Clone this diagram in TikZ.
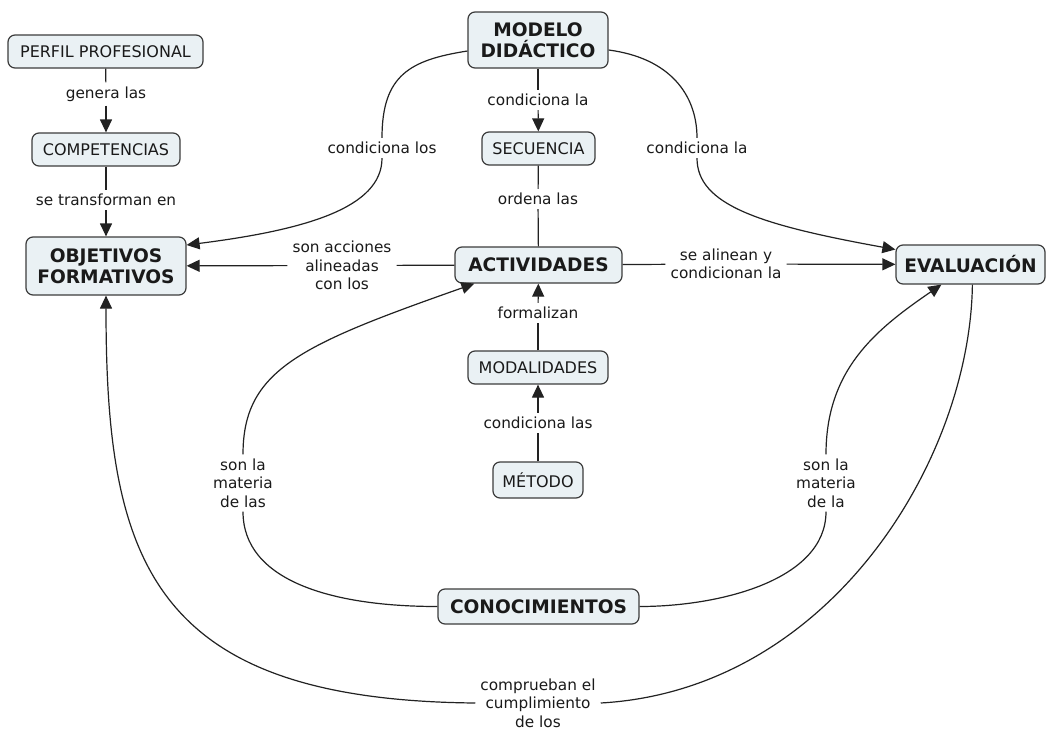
\documentclass[tikz,border=0pt]{standalone}
\usepackage{fontspec}
\setmainfont{DejaVu Sans}
\usetikzlibrary{arrows.meta,calc}
\definecolor{boxfill}{HTML}{EAF1F4}
\definecolor{boxdraw}{HTML}{3C3C3C}
\definecolor{lnk}{HTML}{222222}
\definecolor{txt}{HTML}{1A1A1A}
\begin{document}
\begin{tikzpicture}[x=1pt,y=-1pt,
  concept/.style={draw=boxdraw,fill=boxfill,rounded corners=7pt,line width=1.2pt,inner sep=0pt,align=center,text=txt,font=\fontsize{16}{19}\selectfont},
  bigconcept/.style={concept,font=\bfseries\fontsize{18.6}{21}\selectfont},
  lbl/.style={inner xsep=5pt,inner ysep=4pt,align=center,text=txt,font=\fontsize{15.3}{18.5}\selectfont},
  link/.style={draw=lnk,line width=1.2pt},
  arr/.style={link,-{Triangle[length=13pt,width=12pt]}}]
\useasboundingbox[fill=white] (0,0) rectangle (1047,731);
% concepts
\node[concept,minimum width=195pt,minimum height=33pt] (perfil) at (105.5,51.5) {PERFIL PROFESIONAL};
\node[concept,minimum width=148pt,minimum height=33pt] (comp) at (106,149.5) {COMPETENCIAS};
\node[bigconcept,minimum width=160pt,minimum height=58pt] (obj) at (106,266) {OBJETIVOS\\FORMATIVOS};
\node[bigconcept,minimum width=140pt,minimum height=56pt] (modelo) at (538,40) {MODELO\\DIDÁCTICO};
\node[concept,minimum width=113pt,minimum height=33pt] (sec) at (538.5,148.5) {SECUENCIA};
\node[bigconcept,minimum width=167pt,minimum height=36pt] (act) at (538.5,265) {ACTIVIDADES};
\node[bigconcept,minimum width=149pt,minimum height=39pt] (eval) at (970.5,264.5) {EVALUACIÓN};
\node[concept,minimum width=140pt,minimum height=33pt] (modal) at (538,367.5) {MODALIDADES};
\node[concept,minimum width=90pt,minimum height=36pt] (metodo) at (538,480) {MÉTODO};
\node[bigconcept,minimum width=201pt,minimum height=35pt] (conoc) at (538.5,606.5) {CONOCIMIENTOS};
% labels
\node[lbl] (lgenera) at (106,94) {genera las};
\node[lbl] (ltransf) at (106,200) {se transforman en};
\node[lbl] (lcondla) at (538,100) {condiciona la};
\node[lbl] (lordena) at (538,199) {ordena las};
\node[lbl] (lcondlos) at (382,148) {condiciona los};
\node[lbl] (lcondlab) at (697,148) {condiciona la};
\node[lbl] (lacc) at (342,265.5) {son acciones\\alineadas\\con los};
\node[lbl] (lalin) at (726,264) {se alinean y\\condicionan la};
\node[lbl] (lformal) at (538,313) {formalizan};
\node[lbl] (lcondlas) at (538,423) {condiciona las};
\node[lbl] (lmat1) at (243,483) {son la\\materia\\de las};
\node[lbl] (lmat2) at (826,483) {son la\\materia\\de la};
\node[lbl] (lcompr) at (538,703) {comprueban el\\cumplimiento\\de los};
% straight links
\draw[link] (perfil) -- (lgenera);
\draw[arr] (lgenera) -- (comp);
\draw[link] (comp) -- (ltransf);
\draw[arr] (ltransf) -- (obj);
\draw[link] (modelo) -- (lcondla);
\draw[arr] (lcondla) -- (sec);
\draw[link] (sec) -- (lordena);
\draw[link] (lordena) -- (act);
\draw[link] (act) -- (lacc);
\draw[arr] (lacc) -- (obj);
\draw[link] (act) -- (lalin);
\draw[arr] (lalin) -- (eval);
\draw[link] (modal) -- (lformal);
\draw[arr] (lformal) -- (act);
\draw[link] (metodo) -- (lcondlas);
\draw[arr] (lcondlas) -- (modal);
% curved links
\draw[link] ($(modelo.west)+(0,11)$) .. controls (410,60) and (382,75) .. (lcondlos.north);
\draw[arr] (lcondlos.south) .. controls (382,208) and (305,230) .. ($(obj.east)+(0,-21)$);
\draw[link] ($(modelo.east)+(0,10)$) .. controls (670,58) and (697,95) .. (lcondlab.north);
\draw[arr] (lcondlab.south) .. controls (697,205) and (760,225) .. ($(eval.west)+(0,-15)$);
\draw[link] (conoc.west) .. controls (330,606.5) and (243,580) .. (lmat1.south);
\draw[arr] (lmat1.north) .. controls (243,370) and (300,345) .. ($(act.south west)+(20,0)$);
\draw[link] (conoc.east) .. controls (720,606.5) and (826,580) .. (lmat2.south);
\draw[arr] (lmat2.north) .. controls (826,370) and (875,330) .. ($(eval.south west)+(46,0)$);
\draw[link] ($(eval.south west)+(77,0)$) .. controls (970,460) and (830,690) .. (lcompr.east);
\draw[arr] (lcompr.west) .. controls (150,700) and (106,560) .. (obj.south);
\end{tikzpicture}
\end{document}
